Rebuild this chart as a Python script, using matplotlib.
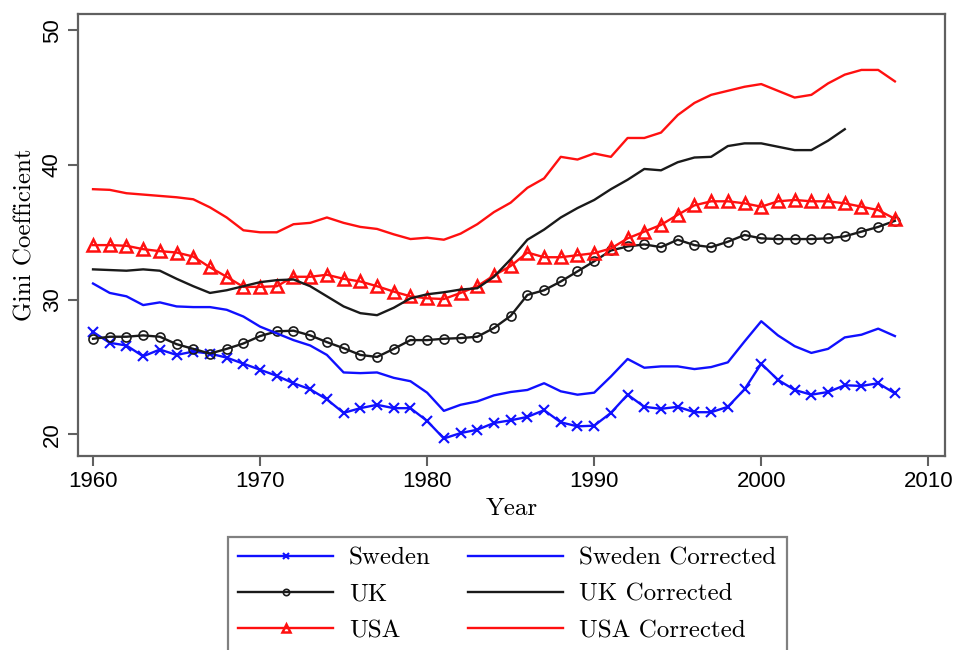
import numpy as np
import matplotlib
matplotlib.use("Agg")
import matplotlib.pyplot as plt

# Gini coefficients (1960-2008)
years = np.arange(1960, 2009)
years_uk_corr = np.arange(1960, 2006)

sweden = [27.6, 26.8, 26.6, 25.8, 26.3, 25.9, 26.15, 26.0, 25.7, 25.25,
          24.8, 24.35, 23.8, 23.35, 22.6, 21.6, 21.95, 22.2, 21.95, 21.95,
          21.0, 19.7, 20.1, 20.35, 20.85, 21.05, 21.3, 21.8, 20.9, 20.6,
          20.65, 21.6, 22.95, 22.05, 21.9, 22.05, 21.65, 21.65, 22.05, 23.35,
          25.25, 24.05, 23.3, 22.95, 23.15, 23.65, 23.6, 23.8, 23.05]
sweden_corr = [31.2, 30.5, 30.25, 29.6, 29.8, 29.5, 29.45, 29.45, 29.25, 28.75,
               28.0, 27.5, 27.0, 26.6, 25.9, 24.6, 24.55, 24.6, 24.2, 23.95,
               23.1, 21.75, 22.2, 22.45, 22.9, 23.15, 23.3, 23.8, 23.2, 22.95,
               23.1, 24.3, 25.6, 24.95, 25.05, 25.05, 24.85, 25.0, 25.35, 26.9,
               28.4, 27.35, 26.55, 26.05, 26.35, 27.2, 27.4, 27.85, 27.3]
uk = [27.1, 27.25, 27.25, 27.35, 27.25, 26.7, 26.35, 26.0, 26.35, 26.75,
      27.3, 27.65, 27.7, 27.35, 26.85, 26.4, 25.9, 25.75, 26.35, 27.0,
      27.0, 27.1, 27.15, 27.25, 27.9, 28.8, 30.35, 30.7, 31.35, 32.1,
      32.85, 33.65, 33.95, 34.1, 33.9, 34.45, 34.05, 33.9, 34.3, 34.8,
      34.55, 34.5, 34.5, 34.5, 34.55, 34.7, 35.05, 35.4, 35.85]
uk_corr = [32.25, 32.2, 32.15, 32.25, 32.15, 31.55, 31.0, 30.5, 30.7, 31.0,
           31.3, 31.45, 31.5, 31.0, 30.25, 29.5, 29.0, 28.85, 29.4, 30.1,
           30.4, 30.55, 30.75, 30.85, 31.7, 33.0, 34.45, 35.2, 36.1, 36.8,
           37.4, 38.2, 38.9, 39.7, 39.6, 40.2, 40.55, 40.6, 41.4, 41.6,
           41.6, 41.35, 41.1, 41.1, 41.8, 42.65]
usa = [34.05, 34.05, 34.0, 33.75, 33.6, 33.5, 33.2, 32.4, 31.7, 30.95,
       30.95, 31.0, 31.7, 31.7, 31.85, 31.55, 31.35, 31.0, 30.6, 30.25,
       30.1, 30.05, 30.5, 31.0, 31.8, 32.5, 33.5, 33.15, 33.15, 33.3,
       33.45, 33.8, 34.55, 35.05, 35.55, 36.3, 37.0, 37.3, 37.3, 37.15,
       36.9, 37.3, 37.4, 37.3, 37.3, 37.15, 36.9, 36.65, 36.0]
usa_corr = [38.2, 38.15, 37.9, 37.8, 37.7, 37.6, 37.45, 36.85, 36.1, 35.15,
            35.0, 35.0, 35.6, 35.7, 36.1, 35.7, 35.4, 35.25, 34.85, 34.5,
            34.6, 34.45, 34.9, 35.6, 36.5, 37.2, 38.3, 39.0, 40.6, 40.4,
            40.85, 40.6, 42.0, 42.0, 42.4, 43.7, 44.6, 45.2, 45.5, 45.8,
            46.0, 45.5, 45.0, 45.2, 46.05, 46.7, 47.05, 47.05, 46.2]

blue, black, red = "#1010ff", "#1a1a1a", "#ff1010"
frame = "#606060"
serif = "cmr10"
lw = 1.7

fig = plt.figure(figsize=(9.56, 6.5), dpi=100)
ax = fig.add_axes([78 / 956, 1 - 456 / 650, (945 - 78) / 956, (456 - 14) / 650])

ax.plot(years, sweden, color=blue, lw=lw, marker="x", ms=7, mew=1.5, label="Sweden")
ax.plot(years, uk, color=black, lw=lw, marker="o", ms=6.5, mfc="none", mew=1.2, label="UK")
ax.plot(years, usa, color=red, lw=lw, marker="^", ms=8, mfc="none", mew=1.8, label="USA")
ax.plot(years, sweden_corr, color=blue, lw=lw, label="Sweden Corrected")
ax.plot(years_uk_corr, uk_corr, color=black, lw=lw, label="UK Corrected")
ax.plot(years, usa_corr, color=red, lw=lw, label="USA Corrected")

ax.set_xlim(1959.1, 2011.0)
ax.set_ylim(18.4, 51.2)
ax.set_xticks(np.arange(1960, 2011, 10))
ax.set_yticks([20, 30, 40, 50])

for s in ax.spines.values():
    s.set_color(frame)
    s.set_linewidth(1.6)
ax.tick_params(direction="out", length=7, width=1.5, color=frame, pad=4)
for t in ax.get_xticklabels() + ax.get_yticklabels():
    t.set_family("Liberation Sans")
    t.set_fontsize(16)
for t in ax.get_yticklabels():
    t.set_rotation(90)
    t.set_va("center")

ax.set_xlabel("Year", family=serif, fontsize=18, labelpad=4)
ax.set_ylabel("Gini Coefficient", family=serif, fontsize=18, labelpad=4)

leg = ax.legend(ncol=2, loc="upper left", bbox_to_anchor=(228 / 956, 1 - 537 / 650),
                bbox_transform=fig.transFigure, borderaxespad=0, frameon=True,
                fancybox=False, edgecolor=frame, handlelength=3.8, handletextpad=0.64,
                columnspacing=1.5, labelspacing=0.55, borderpad=0.4, markerscale=0.7,
                prop={"family": serif, "size": 18})
leg.get_frame().set_linewidth(1.6)

fig.savefig("out.png", dpi=100)
